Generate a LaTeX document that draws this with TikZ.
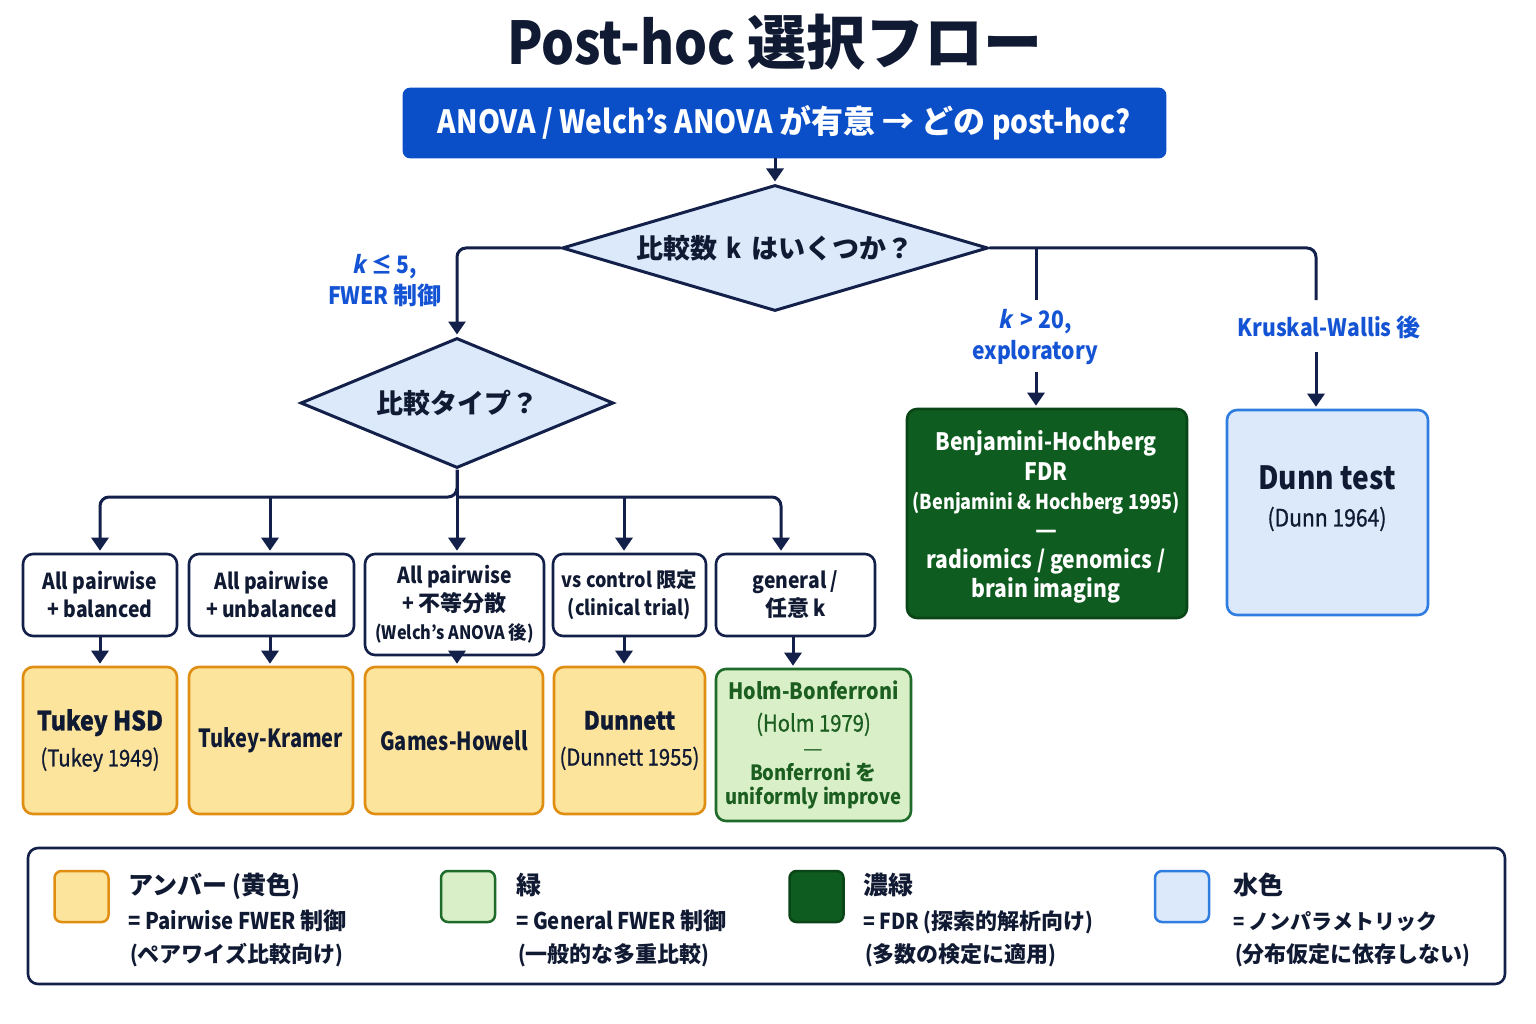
\documentclass[tikz,border=0pt]{standalone}
\usepackage{fontspec}
\setmainfont{Noto Sans CJK JP}[FakeStretch=0.88]
\newfontfamily\cjkfont{Noto Sans CJK JP}
\newcommand\J[1]{{\cjkfont #1}}
\newcommand\fs[2]{\fontsize{#1}{#2}\selectfont}
\newcommand\itk{{\addfontfeatures{FakeSlant=0.2}k}}
\newcommand\cond{\addfontfeatures{FakeStretch=0.8}}
\newcommand\med{\addfontfeatures{FakeBold=0.9}}
\usetikzlibrary{shapes.geometric,arrows.meta}
\definecolor{navy}{HTML}{13204A}
\definecolor{ink}{HTML}{111A33}
\definecolor{topblue}{HTML}{0A4FC8}
\definecolor{lblue}{HTML}{DCE9FB}
\definecolor{labblue}{HTML}{1454D4}
\definecolor{amberfill}{HTML}{FDE49C}
\definecolor{amberdraw}{HTML}{E08E12}
\definecolor{gfill}{HTML}{D8EFC8}
\definecolor{gdraw}{HTML}{1E6B2A}
\definecolor{gtext}{HTML}{1B5E20}
\definecolor{dgfill}{HTML}{0E5C1F}
\definecolor{dgdraw}{HTML}{0A4517}
\definecolor{dunndraw}{HTML}{2F7DE0}
\tikzset{
  conn/.style={draw=navy, line width=3pt},
  arr/.style={conn, -{Triangle[width=17pt,length=13pt]}, shorten >=2pt},
  rc/.style={rounded corners=9pt},
  boxbase/.style={inner sep=0pt, align=center, rounded corners=10pt, line width=2.6pt},
  choice/.style={boxbase, draw=navy, fill=white, text=ink, font=\bfseries\fs{22}{28}},
  amber/.style={boxbase, draw=amberdraw, fill=amberfill, text=ink},
  lgreen/.style={boxbase, draw=gdraw, fill=gfill, text=gtext},
  dgreen/.style={boxbase, draw=dgdraw, fill=dgfill, text=white},
  nonpar/.style={boxbase, draw=dunndraw, fill=lblue, text=ink},
  dec/.style={diamond, draw=navy, fill=lblue, line width=3pt, inner sep=0pt, text=ink, font=\bfseries\fs{27}{32}},
  lab/.style={text=labblue, font=\bfseries\fs{24}{31}, align=center},
  swatch/.style={minimum width=54, minimum height=51, rounded corners=7pt, line width=2.5pt},
  legt/.style={anchor=base west, text=ink, inner sep=0pt},
}
\begin{document}
\begin{tikzpicture}[x=1pt,y=-1pt]
\useasboundingbox (0,0) rectangle (1536,1024);
\fill[white] (0,0) rectangle (1536,1024);

% title and top box
\node[text=ink, font=\bfseries\fs{59}{66}] (title) at (775,42) {Post-hoc \J{選択フロー}};
\node[boxbase, rounded corners=6pt, draw=topblue, fill=topblue, text=white, minimum width=761, minimum height=68, font=\bfseries\fs{32}{38}] (top) at (784.5,123) {ANOVA / Welch's ANOVA \J{が有意 → どの} post-hoc?};

% decisions
\node[dec, aspect=3.3, minimum width=426, minimum height=126] (d1) at (775,248) {\J{比較数}\, k\, \J{はいくつか？}};
\node[dec, aspect=2.4, minimum width=313, minimum height=130] (d2) at (457,403) {\J{比較タイプ？}};

% right-hand results
\node[dgreen, minimum width=280, minimum height=209] (bh) at (1047,513.5) {};
\node[text=white, align=center, font=\bfseries\fs{24}{29.4}] (bhT) at (1046,517)
  {Benjamini-Hochberg\\FDR\\{\fs{20.5}{29.4}(Benjamini \& Hochberg 1995)}\\\J{—}\\radiomics / genomics /\\brain imaging};
\node[nonpar, minimum width=201, minimum height=205] (dunn) at (1327.5,512.5) {};
\node[text=ink, font=\bfseries\fs{32}{38}] (dunnT) at (1327,478) {Dunn test};
\node[text=ink, font=\med\fs{24}{30}] (dunnY) at (1327,519) {(Dunn 1964)};

% branch labels
\node[lab] (lk5) at (385,281) {\itk\ ≤ 5,\\FWER \J{制御}};
\node[lab] (lk20) at (1035,337) {\itk\,\ > 20,\\exploratory};
\node[lab] (lkw) at (1329,327) {Kruskal-Wallis \J{後}};

% row 1: comparison types
\node[choice, minimum width=154, minimum height=82] (b1) at (100,595) {All pairwise\\+ balanced};
\node[choice, minimum width=165, minimum height=82] (b2) at (271.5,595) {All pairwise\\+ unbalanced};
\node[choice, minimum width=179, minimum height=101] (b3) at (454.5,604.5) {All pairwise\\+ \J{不等分散}\\{\fs{18.5}{28}(Welch's ANOVA \J{後})}};
\node[choice, minimum width=153, minimum height=82, font=\bfseries\fs{20.5}{28}] (b4) at (629.5,595) {vs control \J{限定}\\(clinical trial)};
\node[choice, minimum width=159, minimum height=82] (b5) at (795.5,595) {general /\\\J{任意} k};

% row 2: methods
\node[amber, minimum width=154, minimum height=147, font=\med\fs{23}{36}] (t1) at (100,740.5) {{\bfseries\fs{26.5}{36}Tukey HSD}\\(Tukey 1949)};
\node[amber, minimum width=164, minimum height=147, font=\bfseries\cond\fs{25}{34}] (t2) at (271,740.5) {Tukey-Kramer};
\node[amber, minimum width=178, minimum height=147, font=\bfseries\cond\fs{25}{34}] (t3) at (454,740.5) {Games-Howell};
\node[amber, minimum width=151, minimum height=147, font=\med\fs{23}{36}] (t4) at (629.5,740.5) {{\bfseries\fs{25}{36}Dunnett}\\(Dunnett 1955)};
\node[lgreen, minimum width=195, minimum height=152, font=\fs{21}{24}] (t5) at (813.5,745)
  {{\bfseries\fs{22.5}{31}Holm-Bonferroni}\\[8pt]{\med\fs{23}{31}(Holm 1979)}\\[1pt]{\fs{22}{24}\J{—}}\\{\bfseries Bonferroni \J{を}}\\{\bfseries uniformly improve}};

% connectors
\draw[arr] (top.south -| d1.north) -- (d1.north);
\draw[arr, rc] (d1.west) -| (d2.north);
\coordinate (kwtop) at (1316,300);
\coordinate (kwbot) at (1316,352);
\coordinate (bhsplit) at (1036,248);
\coordinate (bhtop) at (1036,300);
\coordinate (bhbot) at (1036,372);
\draw[conn, rc] (d1.east) -| (kwtop);
\draw[arr] (kwbot) -- (kwbot |- dunn.north);
\draw[conn] (bhsplit) -- (bhtop);
\draw[arr] (bhbot) -- (bhbot |- bh.north);

\coordinate (bus) at (457,497);
\coordinate (bus2) at (270,497);
\coordinate (bus4) at (624,497);
\coordinate (bus5) at (781,497);
\draw[arr, rc] (d2.south) -- (bus) -| (b1.north);
\draw[arr, rc] (bus) -| (bus5 |- b5.north);
\draw[arr] (d2.south) -- (d2.south |- b3.north);
\draw[arr] (bus2) -- (bus2 |- b2.north);
\draw[arr] (bus4) -- (bus4 |- b4.north);

\draw[arr] (b1.south) -- (b1.south |- t1.north);
\draw[arr] (bus2 |- b2.south) -- (bus2 |- t2.north);
\draw[arr] (d2.south |- b3.south) -- (d2.south |- t3.north);
\draw[arr] (bus4 |- b4.south) -- (bus4 |- t4.north);
\coordinate (h5) at (793,636);
\draw[arr] (h5) -- (h5 |- t5.north);

% legend
\node[draw=navy, fill=white, line width=2.6pt, rounded corners=10pt, minimum width=1477, minimum height=136] (legend) at (766.5,916) {};
\node[swatch, draw=amberdraw, fill=amberfill] (s1) at (81.5,896.5) {};
\node[swatch, draw=gdraw, fill=gfill] (s2) at (468,896.5) {};
\node[swatch, draw=dgdraw, fill=dgfill] (s3) at (816.5,896.5) {};
\node[swatch, draw=dunndraw, fill=lblue] (s4) at (1182,896.5) {};

\node[legt, font=\bfseries\fs{25}{30}] (l1a) at (128,894) {\J{アンバー} (\J{黄色})};
\node[legt, font=\bfseries\fs{23}{28}] (l1b) at (128,929) {= Pairwise FWER \J{制御}};
\node[legt, font=\bfseries\fs{22}{28}] (l1c) at (130,962) {(\J{ペアワイズ比較向け})};
\node[legt, font=\bfseries\fs{25}{30}] (l2a) at (516,894) {\J{緑}};
\node[legt, font=\bfseries\fs{23}{28}] (l2b) at (516,929) {= General FWER \J{制御}};
\node[legt, font=\bfseries\fs{22}{28}] (l2c) at (518,962) {(\J{一般的な多重比較})};
\node[legt, font=\bfseries\fs{25}{30}] (l3a) at (863,894) {\J{濃緑}};
\node[legt, font=\bfseries\fs{22}{28}] (l3b) at (863,929) {= FDR (\J{探索的解析向け})};
\node[legt, font=\bfseries\fs{22}{28}] (l3c) at (865,962) {(\J{多数の検定に適用})};
\node[legt, font=\bfseries\fs{25}{30}] (l4a) at (1233,894) {\J{水色}};
\node[legt, font=\bfseries\fs{21}{28}] (l4b) at (1233,929) {= \J{ノンパラメトリック}};
\node[legt, font=\bfseries\fs{22}{28}] (l4c) at (1235,962) {(\J{分布仮定に依存しない})};
\end{tikzpicture}
\end{document}
